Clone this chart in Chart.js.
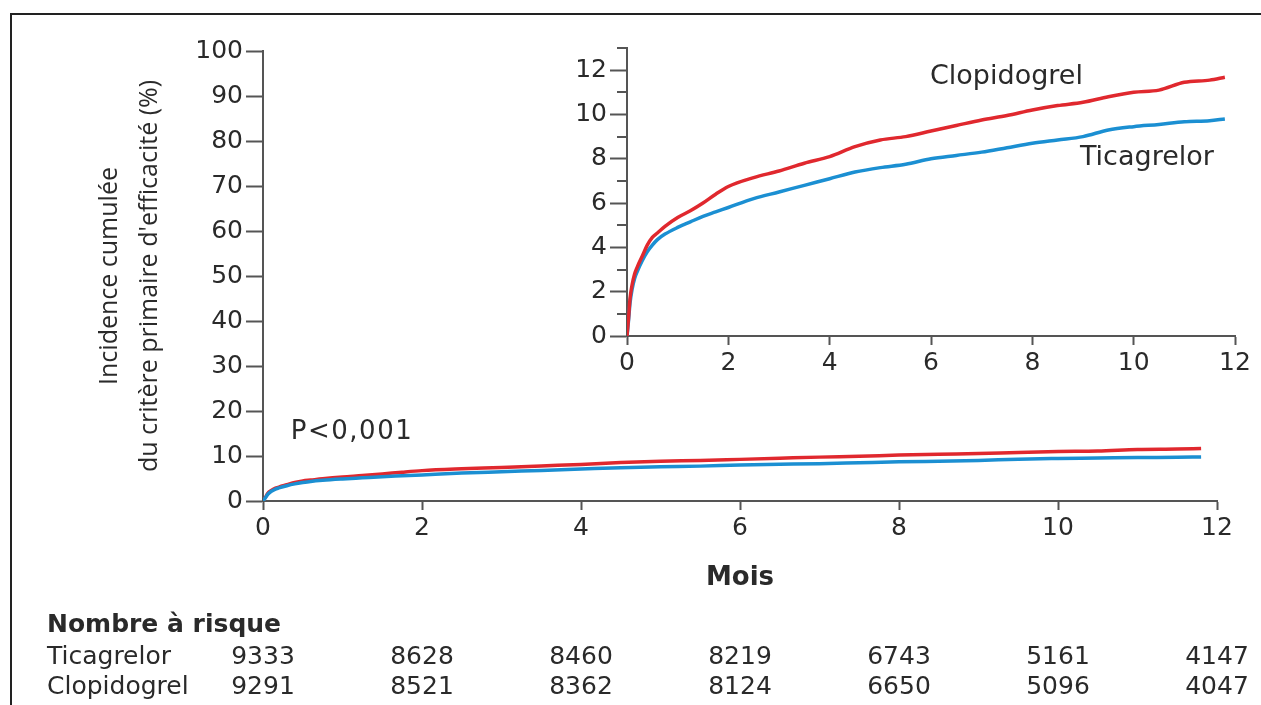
<!DOCTYPE html>
<html>
<head>
<meta charset="utf-8">
<script src="https://cdn.jsdelivr.net/npm/chart.js@4.4.1/dist/chart.umd.min.js"></script>
<style>
  body { margin: 0; background: #fff; }
  #wrap { position: relative; width: 1261px; height: 705px; overflow: hidden; }
  #frame { position: absolute; left: 10px; top: 13px; width: 1251px; height: 692px;
           border-top: 2px solid #222; border-left: 2px solid #222; }
  #main { position: absolute; left: 0; top: 0; }
  #inset { position: absolute; left: 520px; top: 30px; }
</style>
</head>
<body>
<div id="wrap">
  <div id="frame"></div>
  <canvas id="main" width="1261" height="705"></canvas>
  <canvas id="inset" width="741" height="360"></canvas>
</div>
<script>
// months and cumulative incidence (%)
const months       = [0, 0.03, 0.06, 0.1, 0.15, 0.2, 0.3, 0.4, 0.5, 0.6, 0.75, 1, 1.25, 1.5, 1.75, 2, 2.5, 3, 3.5, 4, 4.5, 5, 5.5, 6, 6.5, 7, 7.5, 8, 8.5, 9, 9.5, 10, 10.5, 11, 11.5, 11.8];
const clopidogrel  = [0, 0.8, 1.7, 2.3, 2.8, 3.1, 3.6, 4.1, 4.45, 4.65, 4.95, 5.35, 5.65, 6.0, 6.4, 6.75, 7.15, 7.45, 7.8, 8.1, 8.55, 8.85, 9.0, 9.25, 9.5, 9.75, 9.95, 10.2, 10.4, 10.55, 10.8, 11.0, 11.1, 11.45, 11.55, 11.68];
const ticagrelor   = [0, 0.7, 1.5, 2.1, 2.6, 2.9, 3.4, 3.8, 4.1, 4.35, 4.6, 4.9, 5.15, 5.4, 5.6, 5.8, 6.2, 6.5, 6.8, 7.1, 7.4, 7.6, 7.75, 8.0, 8.15, 8.3, 8.5, 8.7, 8.85, 9.0, 9.3, 9.45, 9.55, 9.67, 9.72, 9.8];

// number at risk
const riskMonths      = [0, 2, 4, 6, 8, 10, 12];
const riskTicagrelor  = [9333, 8628, 8460, 8219, 6743, 5161, 4147];
const riskClopidogrel = [9291, 8521, 8362, 8124, 6650, 5096, 4047];

const pValueText = 'P<0,001';

const RED = '#e0282e';
const BLUE = '#1b8fd2';
const TXT = '#2a2a2a';
const AXIS = '#555';
const FONT = '"DejaVu Sans", sans-serif';

Chart.defaults.font.family = FONT;
Chart.defaults.color = TXT;

function pts(ys) { return months.map((m, i) => ({ x: m, y: ys[i] })); }

function lineSet(label, ys, color) {
  return {
    label: label, data: pts(ys), borderColor: color, borderWidth: 3.5,
    pointRadius: 0, fill: false, cubicInterpolationMode: 'monotone'
  };
}

const mainText = {
  id: 'mainText',
  afterDraw(chart) {
    const { ctx, scales: { x, y } } = chart;
    ctx.save();
    ctx.fillStyle = TXT;
    ctx.textBaseline = 'middle';
    ctx.textAlign = 'left';
    ctx.font = '26px ' + FONT;
    ctx.letterSpacing = '1.5px';
    ctx.fillText(pValueText, x.getPixelForValue(0.35), y.getPixelForValue(15.3));
    ctx.letterSpacing = '0px';

    ctx.font = 'bold 25px ' + FONT;
    ctx.fillText('Nombre à risque', 47, 625);
    ctx.font = '25px ' + FONT;
    ctx.fillText('Ticagrelor', 47, 657);
    ctx.fillText('Clopidogrel', 47, 687);
    ctx.textAlign = 'center';
    riskMonths.forEach((m, i) => {
      const px = x.getPixelForValue(m);
      ctx.fillText(String(riskTicagrelor[i]), px, 657);
      ctx.fillText(String(riskClopidogrel[i]), px, 687);
    });
    ctx.restore();
  }
};

const insetText = {
  id: 'insetText',
  afterDraw(chart) {
    const { ctx, scales: { x, y } } = chart;
    ctx.save();
    // minor ticks on odd values
    ctx.strokeStyle = AXIS;
    ctx.lineWidth = 2;
    for (let v = 1; v <= 13; v += 2) {
      const py = Math.round(y.getPixelForValue(v));
      ctx.beginPath();
      ctx.moveTo(y.right - 10, py);
      ctx.lineTo(y.right, py);
      ctx.stroke();
    }
    ctx.fillStyle = TXT;
    ctx.textBaseline = 'middle';
    ctx.font = '27px ' + FONT;
    ctx.fillText('Clopidogrel', x.getPixelForValue(5.98), y.getPixelForValue(11.7));
    ctx.fillText('Ticagrelor', x.getPixelForValue(8.94), y.getPixelForValue(8.05));
    ctx.restore();
  }
};

new Chart(document.getElementById('main'), {
  type: 'line',
  data: {
    datasets: [
      lineSet('Ticagrelor', ticagrelor, BLUE),
      lineSet('Clopidogrel', clopidogrel, RED)
    ]
  },
  options: {
    responsive: false,
    animation: false,
    devicePixelRatio: 1,
    layout: { padding: { top: 51, right: 44, left: 0, bottom: 0 } },
    plugins: { legend: { display: false }, tooltip: { enabled: false } },
    scales: {
      x: {
        type: 'linear', min: 0, max: 12,
        ticks: { stepSize: 2, font: { size: 25 }, padding: 3 },
        grid: { drawOnChartArea: false, tickLength: 9, tickColor: AXIS, tickWidth: 2 },
        border: { color: AXIS, width: 2 },
        title: { display: true, text: 'Mois', font: { size: 26, weight: 'bold' }, padding: { bottom: 111 } },
        afterFit: s => { s.height = 204; }
      },
      y: {
        min: 0, max: 100,
        ticks: { stepSize: 10, font: { size: 25 }, padding: 3 },
        grid: { drawOnChartArea: false, tickLength: 17, tickColor: AXIS, tickWidth: 2 },
        border: { color: AXIS, width: 2 },
        title: {
          display: true,
          text: ['Incidence cumulée', "du critère primaire d'efficacité (%)"],
          font: { family: '"Open Sans", sans-serif', size: 25, weight: '500', lineHeight: 1.6 },
          padding: { top: 90 }
        },
        afterFit: s => { s.width = 263; }
      }
    }
  },
  plugins: [mainText]
});

new Chart(document.getElementById('inset'), {
  type: 'line',
  data: {
    datasets: [
      lineSet('Clopidogrel', clopidogrel, RED),
      lineSet('Ticagrelor', ticagrelor, BLUE)
    ]
  },
  options: {
    responsive: false,
    animation: false,
    devicePixelRatio: 1,
    layout: { padding: { top: 17, right: 26, left: 0, bottom: 0 } },
    plugins: { legend: { display: false }, tooltip: { enabled: false } },
    scales: {
      x: {
        type: 'linear', min: 0, max: 12,
        ticks: { stepSize: 2, font: { size: 25 }, padding: 3 },
        grid: { drawOnChartArea: false, tickLength: 9, tickColor: AXIS, tickWidth: 2 },
        border: { color: AXIS, width: 2 },
        afterFit: s => { s.height = 54; }
      },
      y: {
        min: 0, max: 13,
        ticks: {
          stepSize: 1, font: { size: 25 }, padding: 3,
          callback: v => (v % 2 === 0 ? v : '')
        },
        grid: {
          drawOnChartArea: false, tickLength: 17, tickWidth: 2,
          // odd values are drawn as short minor ticks by the plugin
          tickColor: c => (c.tick && c.tick.value % 2 === 1 ? 'rgba(0,0,0,0)' : AXIS)
        },
        border: { color: AXIS, width: 2 },
        afterFit: s => { s.width = 107; }
      }
    }
  },
  plugins: [insetText]
});
</script>
</body>
</html>
